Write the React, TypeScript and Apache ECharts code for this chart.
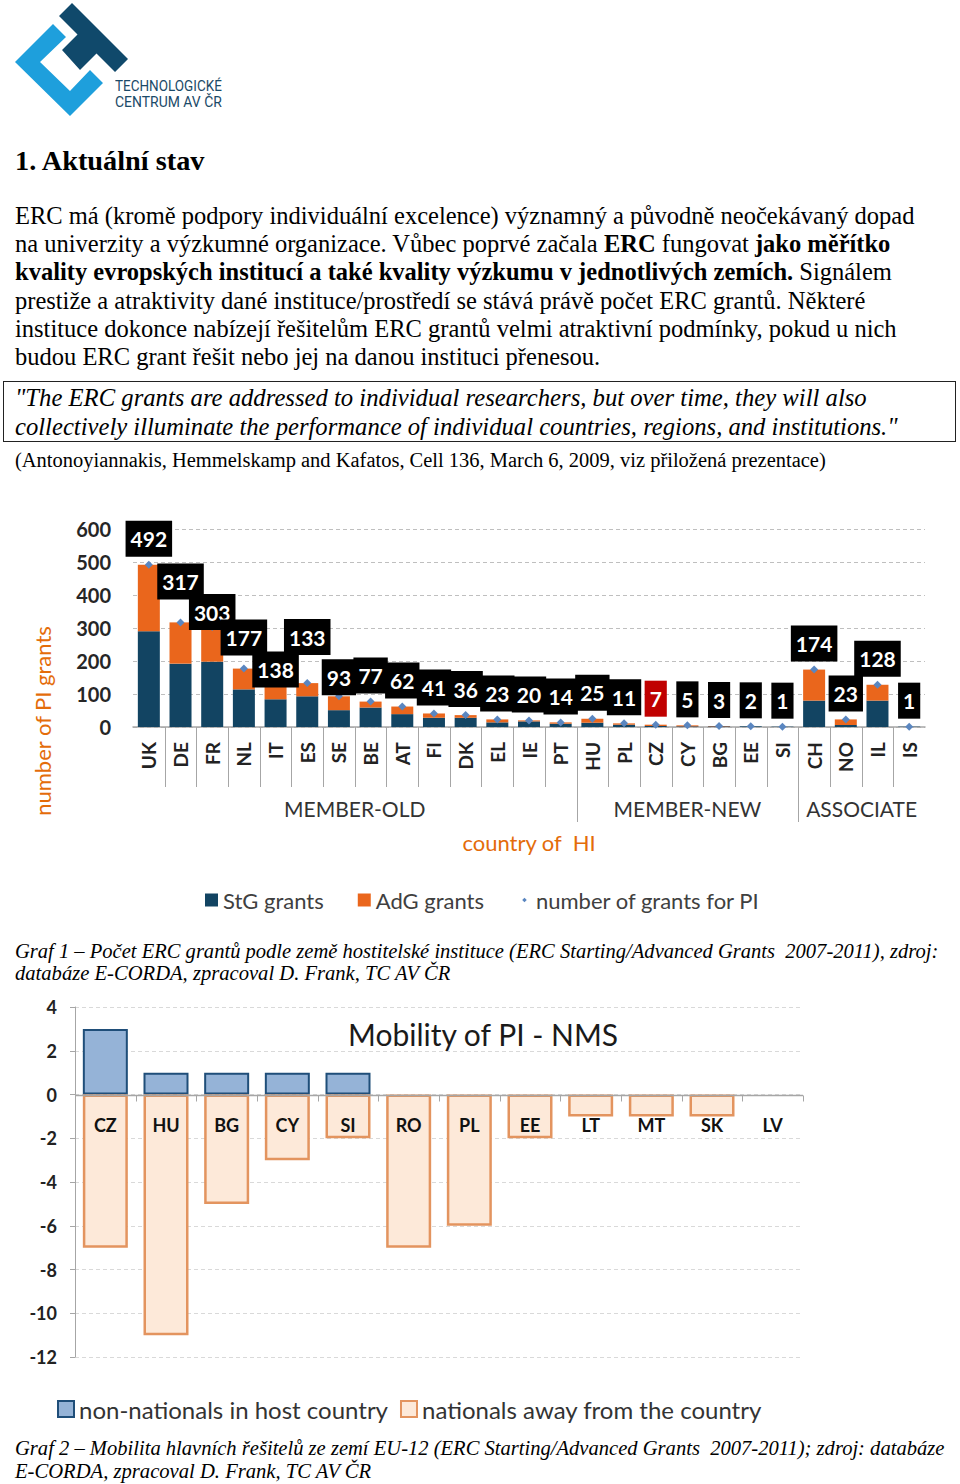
import React, { useEffect, useLayoutEffect, useRef, useState } from "react";
import * as echarts from "echarts";

// ---------- Chart 1 data ----------
const countries = ["UK","DE","FR","NL","IT","ES","SE","BE","AT","FI","DK","EL","IE","PT","HU","PL","CZ","CY","BG","EE","SI","CH","NO","IL","IS"];
const stgGrants = [290,192,198,114,84,93,51,59,39,28,28,14,17,10,13,7,3,2,2,2,1,80,6,80,1];
const adgGrants = [202,125,105,63,54,40,42,18,23,13,8,9,3,4,12,4,4,3,1,0,0,94,17,48,0];
const totalGrants = [492,317,303,177,138,133,93,77,62,41,36,23,20,14,25,11,7,5,3,2,1,174,23,128,1];
const groupNames = ["MEMBER-OLD","MEMBER-NEW","ASSOCIATE"];
const groupSizes = [14,7,4];
const yTicks1 = [0,100,200,300,400,500,600];
const highlightCountry = "CZ";

// ---------- Chart 2 data ----------
const nmsCountries = ["CZ","HU","BG","CY","SI","RO","PL","EE","LT","MT","SK","LV"];
const nonNationalsIn = [3,1,1,1,1,0,0,0,0,0,0,0];
const nationalsAway = [-7,-11,-5,-3,-2,-7,-6,-2,-1,-1,-1,0];
const yTicks2 = [-12,-10,-8,-6,-4,-2,0,2,4];

// label placement style (not data)
const labelNudge: Record<string, number> = { DE: -15, FR: 11, NL: -5, IT: 14, ES: -20, SE: 7 };

const SERIF = '"Liberation Serif", "Times New Roman", serif';

function TextLine(props: any) {
  const { x, baseline, size, fit, italic, bold, family, asc, desc, color, children } = props;
  const ref = useRef<HTMLSpanElement>(null);
  const [scale, setScale] = useState(1);
  useLayoutEffect(() => {
    const measure = () => {
      if (!fit || !ref.current) return;
      const w = ref.current.offsetWidth;
      if (w > 0) setScale(fit / w);
    };
    measure();
    (document as any).fonts?.ready?.then(measure);
  }, [fit]);
  const a = asc ?? 0.891;
  const d = desc ?? 0.216;
  return (
    <span
      ref={ref}
      style={{
        position: "absolute",
        left: x,
        top: baseline - a * size,
        fontSize: size,
        lineHeight: `${(a + d) * size}px`,
        whiteSpace: "pre",
        fontFamily: family ?? SERIF,
        fontStyle: italic ? "italic" : "normal",
        fontWeight: bold ? "bold" : "normal",
        color: color ?? "#000",
        transform: `scaleX(${scale})`,
        transformOrigin: "0 0",
        display: "inline-block",
      }}
    >
      {children}
    </span>
  );
}

function Logo() {
  return (
    <>
      <svg width={140} height={120} style={{ position: "absolute", left: 0, top: 0 }}>
        <polygon points="53,24 15,62 70,116 103,83 90,70 70,91 40,62 66,37" fill="#1e9fdc" />
        <polygon points="72,3 128,59 115,72 96.5,53.5 80,70 62,50 77.5,34.5 59,16" fill="#10496b" />
      </svg>
      <TextLine x={115} baseline={91} size={15.5} fit={107} family="Roboto" asc={0.928} desc={0.244} color="#1b4a68">TECHNOLOGICKÉ</TextLine>
      <TextLine x={115} baseline={107.5} size={15.5} fit={107} family="Roboto" asc={0.928} desc={0.244} color="#1b4a68">CENTRUM AV ČR</TextLine>
    </>
  );
}

function GrantsChart() {
  const ref = useRef<HTMLDivElement>(null);
  useEffect(() => {
    if (!ref.current) return;
    const chart = echarts.init(ref.current, null, { renderer: "svg" });
    const diamondIcon = "path://M0 0M20 20M10 6.5L13.5 10L10 13.5L6.5 10Z";
    chart.setOption({
      animation: false,
      textStyle: { fontFamily: "Lato" },
      grid: { left: 133, right: 35, top: 29, bottom: 203 },
      legend: {
        left: 200,
        top: 384,
        itemWidth: 13,
        itemHeight: 13,
        itemGap: 34,
        textStyle: { fontSize: 22, color: "#404040", fontFamily: "Lato" },
        data: [
          { name: "StG grants", icon: "rect" },
          { name: "AdG grants", icon: "rect" },
          { name: "number of grants for PI", icon: diamondIcon },
        ],
      },
      xAxis: {
        type: "category",
        data: countries,
        axisLine: { lineStyle: { color: "#a6a6a6", width: 1.5 } },
        axisTick: { show: false },
        axisLabel: { rotate: 90, margin: 15, fontSize: 19, fontWeight: "bold", color: "#222", interval: 0 },
      },
      yAxis: {
        type: "value",
        min: yTicks1[0],
        max: yTicks1[yTicks1.length - 1],
        interval: 100,
        axisLine: { show: false },
        axisTick: { show: false },
        axisLabel: { fontSize: 20, fontWeight: "bold", color: "#262626", margin: 22 },
        splitLine: { lineStyle: { type: [4, 3], color: "#bfbfbf" } },
      },
      series: [
        { name: "StG grants", type: "bar", stack: "g", data: stgGrants, barWidth: 22, itemStyle: { color: "#124462" } },
        { name: "AdG grants", type: "bar", stack: "g", data: adgGrants, itemStyle: { color: "#ea661c" } },
        {
          name: "number of grants for PI",
          type: "line",
          z: 5,
          symbol: "diamond",
          symbolSize: 8,
          itemStyle: { color: "#5a86c0" },
          lineStyle: { width: 0, opacity: 0 },
          label: {
            show: true,
            position: "top",
            distance: 4,
            color: "#fff",
            fontWeight: "bold",
            fontSize: 21,
            lineHeight: 26,
            fontFamily: "Lato",
            backgroundColor: "#000",
            padding: [5, 5, 5, 5],
          },
          data: totalGrants.map((v, i) => ({
            value: v,
            label: {
              offset: [0, labelNudge[countries[i]] || 0],
              backgroundColor: countries[i] === highlightCountry ? "#c00000" : "#000",
            },
          })),
        },
      ],
    });

    const cx = (i: number) => chart.convertToPixel({ xAxisIndex: 0 }, i) as number;
    const bw = cx(1) - cx(0);
    const y0 = chart.convertToPixel({ yAxisIndex: 0 }, 0) as number;
    const groupEnds: number[] = [];
    let acc = 0;
    groupSizes.forEach((s) => { acc += s; groupEnds.push(acc); });
    const graphics: any[] = [];
    for (let k = 1; k < countries.length; k++) {
      const x = Math.round(cx(k) - bw / 2) + 0.5;
      const isGroup = groupEnds.includes(k);
      graphics.push({
        type: "line",
        shape: { x1: x, y1: y0, x2: x, y2: y0 + (isGroup ? 95 : 60) },
        style: { stroke: "#a6a6a6", lineWidth: 1 },
      });
    }
    let start = 0;
    groupNames.forEach((g, gi) => {
      const end = start + groupSizes[gi] - 1;
      const mid = (cx(start) + cx(end)) / 2;
      graphics.push({
        type: "text",
        x: mid,
        y: y0 + 81,
        style: { text: g, fontSize: 21, fill: "#333", fontFamily: "Lato", align: "center", verticalAlign: "middle" },
      });
      start = end + 1;
    });
    const center = (cx(0) + cx(countries.length - 1)) / 2;
    graphics.push({
      type: "text",
      x: center,
      y: y0 + 115,
      style: { text: "country of  HI", fontSize: 22, fill: "#e46c0a", fontFamily: "Lato", align: "center", verticalAlign: "middle" },
    });
    graphics.push({
      type: "text",
      x: 42,
      y: 221,
      rotation: Math.PI / 2,
      style: { text: "number of PI grants", fontSize: 22, fill: "#e46c0a", fontFamily: "Lato", align: "center", verticalAlign: "middle" },
    });
    chart.setOption({ graphic: graphics });
    return () => chart.dispose();
  }, []);
  return <div ref={ref} style={{ position: "absolute", left: 0, top: 500, width: 960, height: 430 }} />;
}

function MobilityChart() {
  const ref = useRef<HTMLDivElement>(null);
  useEffect(() => {
    if (!ref.current) return;
    const chart = echarts.init(ref.current, null, { renderer: "svg" });
    chart.setOption({
      animation: false,
      textStyle: { fontFamily: "Lato" },
      title: {
        text: "Mobility of PI - NMS",
        left: 343,
        top: 19,
        textStyle: { fontSize: 30, fontWeight: "normal", color: "#1a1a1a", fontFamily: "Lato" },
      },
      grid: { left: 75, right: 157, top: 12, bottom: 78 },
      legend: {
        left: 52,
        top: 397,
        itemWidth: 16,
        itemHeight: 16,
        itemGap: 12,
        textStyle: { fontSize: 24, color: "#333", fontFamily: "Lato" },
        data: [
          { name: "non-nationals in host country", icon: "rect" },
          { name: "nationals away from the country", icon: "rect" },
        ],
      },
      xAxis: {
        type: "category",
        data: nmsCountries,
        axisLine: { show: false },
        axisTick: { show: false },
        axisLabel: { show: false },
      },
      yAxis: {
        type: "value",
        min: yTicks2[0],
        max: yTicks2[yTicks2.length - 1],
        interval: 2,
        axisLine: { show: true, lineStyle: { color: "#a6a6a6" } },
        axisTick: { show: true, length: 5, lineStyle: { color: "#a6a6a6" } },
        axisLabel: { fontSize: 18, fontWeight: "bold", color: "#222", margin: 18 },
        splitLine: { lineStyle: { type: [4, 3], color: "#d9d9d9" } },
      },
      series: [
        {
          name: "non-nationals in host country",
          type: "bar",
          barWidth: 45,
          data: nonNationalsIn.map((v) => (v === 0 ? null : v)),
          itemStyle: { color: "#95b3d7", borderColor: "#1f4e79", borderWidth: 2 },
        },
        {
          name: "nationals away from the country",
          type: "bar",
          barWidth: 45,
          barGap: "-100%",
          data: nationalsAway.map((v) => (v === 0 ? null : v)),
          itemStyle: { color: "#fde9d9", borderColor: "#e3945f", borderWidth: 2.5 },
        },
      ],
    });

    const cx = (i: number) => chart.convertToPixel({ xAxisIndex: 0 }, i) as number;
    const bw = cx(1) - cx(0);
    const y0 = Math.round(chart.convertToPixel({ yAxisIndex: 0 }, 0) as number) + 0.5;
    const left = cx(0) - bw / 2;
    const right = cx(nmsCountries.length - 1) + bw / 2;
    const graphics: any[] = [
      { type: "line", z: 10, shape: { x1: left, y1: y0, x2: right, y2: y0 }, style: { stroke: "#a6a6a6", lineWidth: 1.5 } },
    ];
    for (let k = 1; k <= nmsCountries.length; k++) {
      const x = Math.round(cx(k - 1) + bw / 2) + 0.5;
      graphics.push({ type: "line", z: 10, shape: { x1: x, y1: y0, x2: x, y2: y0 + 6 }, style: { stroke: "#a6a6a6", lineWidth: 1 } });
    }
    nmsCountries.forEach((c, i) => {
      graphics.push({
        type: "text",
        z: 11,
        x: cx(i),
        y: y0 + 29,
        style: { text: c, fontSize: 18, fontWeight: "bold", fill: "#111", fontFamily: "Lato", align: "center", verticalAlign: "middle" },
      });
    });
    chart.setOption({ graphic: graphics });
    return () => chart.dispose();
  }, []);
  return <div ref={ref} style={{ position: "absolute", left: 0, top: 995, width: 960, height: 440 }} />;
}

export default function App() {
  const P = 24.5;
  const b0 = 223.5;
  const ls = 28.3;
  return (
    <div style={{ position: "absolute", left: 0, top: 0, width: 960, height: 1484, background: "#fff", overflow: "hidden" }}>
      <Logo />
      <TextLine x={15} baseline={170} size={28.3} bold>1. Aktuální stav</TextLine>

      <TextLine x={15} baseline={b0} size={P}>ERC má (kromě podpory individuální excelence) významný a původně neočekávaný dopad</TextLine>
      <TextLine x={15} baseline={b0 + ls} size={P}>na univerzity a výzkumné organizace. Vůbec poprvé začala <b>ERC</b> fungovat <b>jako měřítko</b></TextLine>
      <TextLine x={15} baseline={b0 + 2 * ls} size={P}><b>kvality evropských institucí a také kvality výzkumu v jednotlivých zemích.</b> Signálem</TextLine>
      <TextLine x={15} baseline={b0 + 3 * ls} size={P}>prestiže a atraktivity dané instituce/prostředí se stává právě počet ERC grantů. Některé</TextLine>
      <TextLine x={15} baseline={b0 + 4 * ls} size={P}>instituce dokonce nabízejí řešitelům ERC grantů velmi atraktivní podmínky, pokud u nich</TextLine>
      <TextLine x={15} baseline={b0 + 5 * ls} size={P}>budou ERC grant řešit nebo jej na danou instituci přenesou.</TextLine>

      <div style={{ position: "absolute", left: 3, top: 381, width: 951, height: 59, border: "1.5px solid #222" }} />
      <TextLine x={15} baseline={406} size={P} italic fit={852}>"The ERC grants are addressed to individual researchers, but over time, they will also</TextLine>
      <TextLine x={15} baseline={435} size={P} italic fit={883}>collectively illuminate the performance of individual countries, regions, and institutions."</TextLine>
      <TextLine x={15} baseline={467} size={20.5} fit={811}>(Antonoyiannakis, Hemmelskamp and Kafatos, Cell 136, March 6, 2009, viz přiložená prezentace)</TextLine>

      <GrantsChart />

      <TextLine x={15} baseline={958} size={20.5} italic fit={923}>Graf 1 – Počet ERC grantů podle země hostitelské instituce (ERC Starting/Advanced Grants  2007-2011), zdroj:</TextLine>
      <TextLine x={15} baseline={980.5} size={20.5} italic fit={435}>databáze E-CORDA, zpracoval D. Frank, TC AV ČR</TextLine>

      <MobilityChart />

      <TextLine x={15} baseline={1455} size={20.5} italic fit={929}>Graf 2 – Mobilita hlavních řešitelů ze zemí EU-12 (ERC Starting/Advanced Grants  2007-2011); zdroj: databáze</TextLine>
      <TextLine x={15} baseline={1478} size={20.5} italic fit={356}>E-CORDA, zpracoval D. Frank, TC AV ČR</TextLine>
    </div>
  );
}
